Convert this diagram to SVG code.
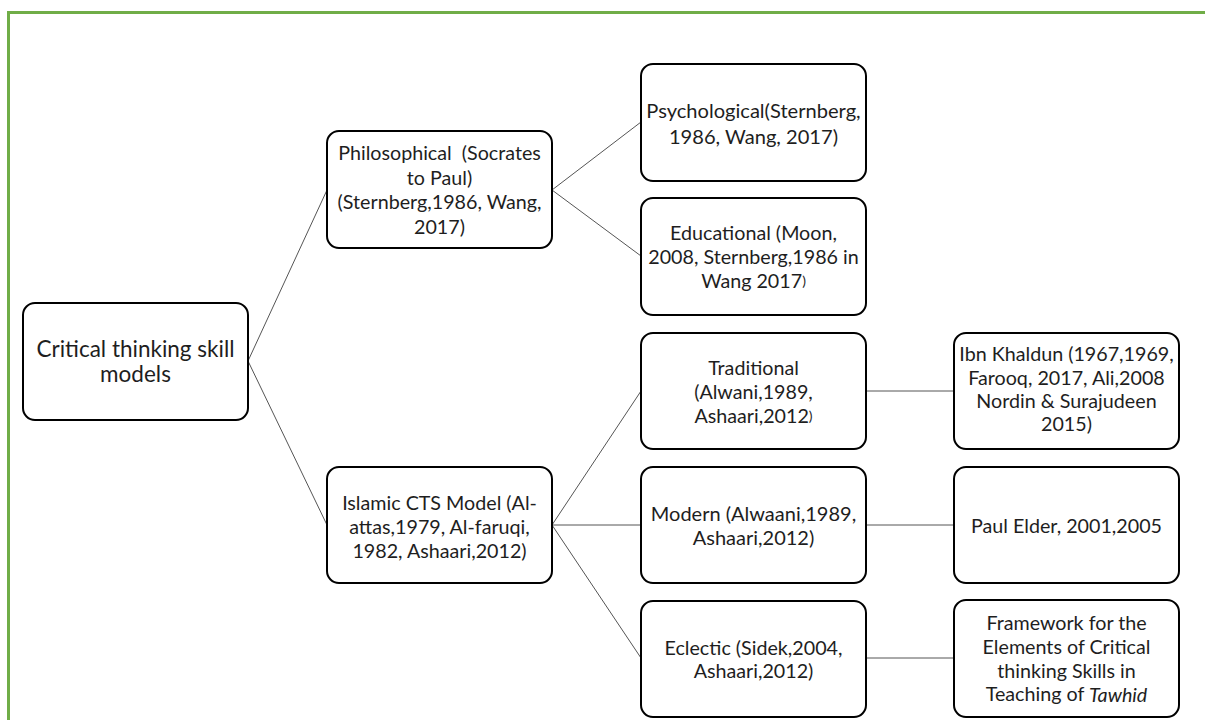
<svg xmlns="http://www.w3.org/2000/svg" width="1205" height="720" viewBox="0 0 1205 720">
<style>
.box{fill:#fff;stroke:#000;stroke-width:2}
.t{font-family:Lato,"Liberation Sans",sans-serif;font-size:19.7px;fill:#1e1e1e;text-anchor:middle;dominant-baseline:central}
.c{stroke:#555;stroke-width:1;fill:none}
.sm{font-size:14px}
.it{font-style:italic}
</style>
<rect x="0" y="0" width="1205" height="720" fill="#fff"/>
<rect x="8.5" y="12.5" width="1300" height="800" fill="none" stroke="#70ad47" stroke-width="3"/>
<g id="connectors">
<line class="c" x1="248" y1="361" x2="327" y2="190"/>
<line class="c" x1="248" y1="361" x2="327" y2="525"/>
<line class="c" x1="552" y1="190" x2="641" y2="122"/>
<line class="c" x1="552" y1="190" x2="641" y2="256"/>
<line class="c" x1="552" y1="525" x2="641" y2="391"/>
<line class="c" x1="552" y1="525" x2="641" y2="525"/>
<line class="c" x1="552" y1="525" x2="641" y2="658"/>
<line class="c" x1="866" y1="391" x2="954" y2="391"/>
<line class="c" x1="866" y1="525" x2="954" y2="525"/>
<line class="c" x1="866" y1="658" x2="954" y2="658"/>
</g>
<g id="root">
<rect class="box" x="23" y="303" width="225" height="117" rx="12"/>
<text class="t" x="135.5" y="348" style="font-size:22.5px">Critical thinking skill</text>
<text class="t" x="135.5" y="373" style="font-size:22.5px">models</text>
</g>
<g id="philosophical">
<rect class="box" x="327" y="131" width="225" height="117" rx="12"/>
<text class="t" x="439.5" y="152.5" xml:space="preserve">Philosophical  (Socrates</text>
<text class="t" x="439.5" y="177">to Paul)</text>
<text class="t" x="439.5" y="201.5">(Sternberg,1986, Wang,</text>
<text class="t" x="439.5" y="226">2017)</text>
</g>
<g id="islamic">
<rect class="box" x="327" y="467" width="225" height="116" rx="12"/>
<text class="t" x="439.5" y="502">Islamic CTS Model (Al-</text>
<text class="t" x="439.5" y="526">attas,1979, Al-faruqi,</text>
<text class="t" x="439.5" y="550">1982, Ashaari,2012)</text>
</g>
<g id="psychological">
<rect class="box" x="641" y="64" width="225" height="117" rx="12"/>
<text class="t" x="753.5" y="110" style="font-size:20.1px">Psychological(Sternberg,</text>
<text class="t" x="753.5" y="136" style="font-size:20.1px">1986, Wang, 2017)</text>
</g>
<g id="educational">
<rect class="box" x="641" y="198" width="225" height="117" rx="12"/>
<text class="t" x="753.5" y="232">Educational (Moon,</text>
<text class="t" x="753.5" y="256">2008, Sternberg,1986 in</text>
<text class="t" x="753.5" y="280">Wang 2017<tspan class="sm">)</tspan></text>
</g>
<g id="traditional">
<rect class="box" x="641" y="333" width="225" height="116" rx="12"/>
<text class="t" x="753.5" y="367">Traditional</text>
<text class="t" x="753.5" y="391">(Alwani,1989,</text>
<text class="t" x="753.5" y="415">Ashaari,2012<tspan class="sm">)</tspan></text>
</g>
<g id="modern">
<rect class="box" x="641" y="467" width="225" height="116" rx="12"/>
<text class="t" x="753.5" y="513" style="font-size:20px">Modern (Alwaani,1989,</text>
<text class="t" x="753.5" y="537" style="font-size:20px">Ashaari,2012)</text>
</g>
<g id="eclectic">
<rect class="box" x="641" y="601" width="225" height="116" rx="12"/>
<text class="t" x="753.5" y="647">Eclectic (Sidek,2004,</text>
<text class="t" x="753.5" y="670">Ashaari,2012)</text>
</g>
<g id="ibnkhaldun">
<rect class="box" x="954" y="333" width="225" height="116" rx="12"/>
<text class="t" x="1066.5" y="353.5">Ibn Khaldun (1967,1969,</text>
<text class="t" x="1066.5" y="377">Farooq, 2017, Ali,2008</text>
<text class="t" x="1066.5" y="400">Nordin &amp; Surajudeen</text>
<text class="t" x="1066.5" y="423.5">2015)</text>
</g>
<g id="paulelder">
<rect class="box" x="954" y="467" width="225" height="116" rx="12"/>
<text class="t" x="1066.5" y="525">Paul Elder, 2001,2005</text>
</g>
<g id="framework">
<rect class="box" x="954" y="600" width="225" height="117" rx="12"/>
<text class="t" x="1066.5" y="622">Framework for the</text>
<text class="t" x="1066.5" y="646.5">Elements of Critical</text>
<text class="t" x="1066.5" y="670">thinking Skills in</text>
<text class="t" x="1066.5" y="693.5">Teaching of <tspan class="it">Tawhid</tspan></text>
</g>
</svg>
